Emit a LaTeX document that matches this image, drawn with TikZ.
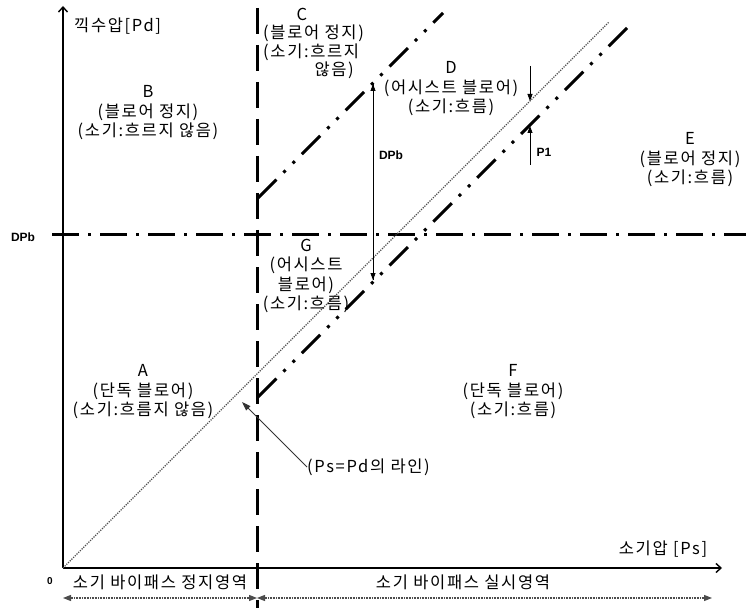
\documentclass[tikz,border=0pt]{standalone}
\usepackage{fontspec}
\setmainfont{Noto Sans CJK KR}[LetterSpace=10]
\newfontfamily\latinbold{Liberation Sans}[BoldFont={Liberation Sans Bold}]
\usetikzlibrary{arrows.meta}
\begin{document}
\begin{tikzpicture}[x=1pt,y=-1pt,
  lbl/.style={align=center, font=\fontsize{16.5}{19.5}\selectfont, inner sep=0pt},
  axisline/.style={line width=1.4pt, -{Straight Barb[length=5pt,width=9pt]}},
  vdash/.style={line width=3pt, dash pattern=on 26pt off 11pt},
  hdashdot/.style={line width=3pt, dash pattern=on 27pt off 9pt on 3pt off 9pt},
  ddashdot/.style={line width=3pt, dash pattern=on 26pt off 10pt on 3pt off 10pt on 3pt off 10pt},
  psline/.style={line width=1.2pt, black!70, dash pattern=on 1.2pt off 1.2pt},
  darr/.style={line width=0.8pt, -{Triangle[length=7pt,width=5pt]}},
  thinarr/.style={line width=0.9pt, black!80, -{Triangle[length=9pt,width=6pt]}},
  dimarr/.style={line width=1.1pt, black!70, dash pattern=on 1pt off 0.6pt, {Triangle[length=8pt,width=6pt]}-{Triangle[length=8pt,width=6pt]}},
  smallb/.style={font=\latinbold\bfseries\fontsize{12}{14}\selectfont, inner sep=0pt}]
\useasboundingbox (0,0) rectangle (746,612);

% coordinates
\coordinate (O) at (63,568);
\coordinate (Ytop) at (63,6);
\coordinate (Xend) at (722,568);
\coordinate (Vtop) at (257,8);
\coordinate (Vbot) at (257,608);
\coordinate (Hl) at (52,235);
\coordinate (Hr) at (746,235);
\coordinate (PsEnd) at (609,22);
\coordinate (Ua) at (258,198);
\coordinate (Ub) at (443,13);
\coordinate (La) at (258,397);
\coordinate (Lb) at (631,24);
\coordinate (DPt) at (373,84);
\coordinate (DPbt) at (373,280);
\coordinate (P1top) at (530,66);
\coordinate (P1a) at (530,101);
\coordinate (P1bot) at (530,165);
\coordinate (P1b) at (530,126);
\coordinate (PsTip) at (242,402);
\coordinate (DimL) at (63,598);
\coordinate (DimM) at (257,598);
\coordinate (DimR) at (712,598);

% axes
\draw[axisline] (O) -- (Ytop);
\draw[axisline] (O) -- (Xend);

% boundary lines
\draw[vdash] (Vtop) -- (Vbot);
\draw[hdashdot] (Hl) -- (Hr);
\draw[psline] (O) -- (PsEnd);
\draw[ddashdot] (Ua) -- (Ub);
\draw[ddashdot] (La) -- (Lb);

% DPb and P1 arrows
\draw[darr] (DPbt) -- (DPt);
\draw[darr] (DPt) -- (DPbt);
\draw[darr] (P1top) -- (P1a);
\draw[darr] (P1bot) -- (P1b);

% labels
\node[smallb] (dpbl) at (23,237) {DPb};
\node[smallb] (dpbm) at (391,155) {DPb};
\node[smallb] (p1) at (544,152) {P1};
\node[smallb, font=\latinbold\bfseries\fontsize{10}{12}\selectfont] (zero) at (50,581) {0};

\node[lbl, anchor=west] (yl) at (74,26) {끽수압[Pd]};
\node[lbl] (xl) at (663,549) {소기압 [Ps]};

\node[lbl] (B) at (148,113) {B\\(블로어 정지)\\(소기:흐르지 않음)};
\node[lbl] (C1) at (302,14) {C};
\node[lbl, anchor=west] (C2) at (263,33) {(블로어 정지)};
\node[lbl, anchor=west] (C3) at (263,52) {(소기:흐르지};
\node[lbl, anchor=east] (C4) at (354,70) {않음)};
\node[lbl] (D) at (451,89) {D\\(어시스트 블로어)\\(소기:흐름)};
\node[lbl] (E) at (690,160) {E\\(블로어 정지)\\(소기:흐름)};
\node[lbl] (G) at (306,276) {G\\(어시스트\\블로어)\\(소기:흐름)};
\node[lbl] (A) at (143,392) {A\\(단독 블로어)\\(소기:흐름지 않음)};
\node[lbl] (F) at (513,392) {F\\(단독 블로어)\\(소기:흐름)};
\node[lbl, anchor=west] (ps) at (307,467) {(Ps=Pd의 라인)};
\draw[thinarr] (ps.west) -- (PsTip);

% bottom
\node[lbl] (stop) at (160,582) {소기 바이패스 정지영역};
\node[lbl] (run) at (463,582) {소기 바이패스 실시영역};
\draw[dimarr] (DimL) -- (DimM);
\draw[dimarr] (DimM) -- (DimR);
\end{tikzpicture}
\end{document}
